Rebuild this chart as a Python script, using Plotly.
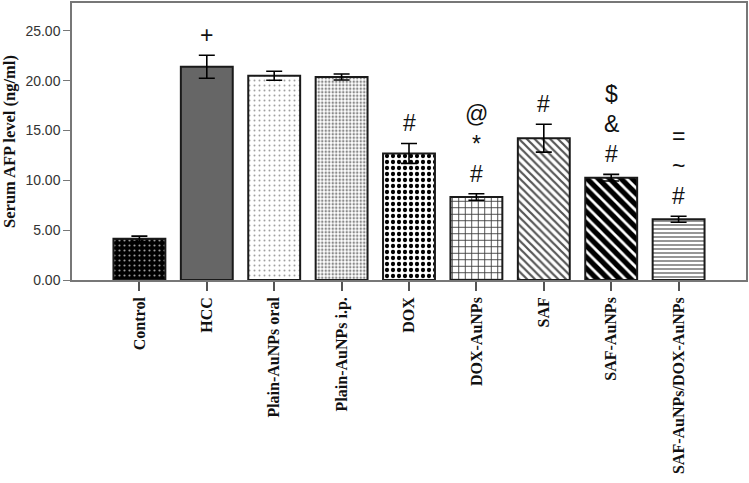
import plotly.graph_objects as go

categories = ["Control", "HCC", "Plain-AuNPs oral", "Plain-AuNPs i.p.", "DOX",
              "DOX-AuNPs", "SAF", "SAF-AuNPs", "SAF-AuNPs/DOX-AuNPs"]
afp_mean = [4.13, 21.40, 20.50, 20.37, 12.70, 8.33, 14.23, 10.27, 6.10]
afp_err = [0.27, 1.15, 0.45, 0.30, 1.00, 0.33, 1.40, 0.33, 0.30]
# significance symbols, bottom to top
sig_marks = [[], ["+"], [], [], ["#"], ["#", "*", "@"], ["#"], ["#", "&", "$"], ["#", "~", "="]]

pat_shape = [".", "", ".", ".", ".", "+", "\\", "\\", "-"]
pat_bg = ["black", "#666666", "white", "white", "white", "white", "white", "white", "white"]
pat_fg = ["#9a9a9a", "#666666", "#a0a0a0", "#8a8a8a", "black", "#3a3a3a", "#555555", "black", "#8a8a8a"]
pat_size = [5, 8, 5, 3.5, 6, 6.5, 5.5, 8, 4]
pat_solid = [0.15, 0.3, 0.12, 0.4, 0.4, 0.25, 0.4, 0.65, 0.45]

fig = go.Figure()
for i, cat in enumerate(categories):
    fig.add_trace(go.Bar(
        x=[cat], y=[afp_mean[i]], width=0.77,
        marker=dict(
            color=pat_bg[i],
            line=dict(color="#1a1a1a", width=2),
            pattern=dict(shape=pat_shape[i], bgcolor=pat_bg[i], fgcolor=pat_fg[i],
                         size=pat_size[i], solidity=pat_solid[i], fillmode="replace"),
        ),
        error_y=dict(type="data", array=[afp_err[i]], visible=True, color="black",
                     thickness=1.6, width=8),
        showlegend=False,
    ))

for cat, m, e, marks in zip(categories, afp_mean, afp_err, sig_marks):
    for i, s in enumerate(marks):
        fig.add_annotation(x=cat, y=m + e, text=s, showarrow=False,
                           yanchor="middle", yshift=20 + 30 * i,
                           font=dict(family="Liberation Sans", size=23, color="#111"))

fig.update_layout(
    width=749, height=483,
    margin=dict(l=72, r=1, t=2, b=203),
    paper_bgcolor="white", plot_bgcolor="white",
    barmode="overlay",
)
fig.update_xaxes(
    type="category", categoryorder="array", categoryarray=categories, range=[-1, 9],
    showline=True, linecolor="#777", linewidth=1.5, mirror=True,
    ticks="outside", ticklen=9, tickcolor="#555", tickwidth=1.5,
    tickangle=-90,
    tickfont=dict(family="Liberation Serif", size=16, color="#111", weight="bold"),
    showgrid=False,
)
fig.update_yaxes(
    range=[0, 27.8], dtick=5, tickformat=".2f",
    showline=True, linecolor="#777", linewidth=1.5, mirror=True,
    ticks="outside", ticklen=7, tickcolor="#777",
    tickfont=dict(family="Liberation Sans", size=14, color="#333"),
    showgrid=False, zeroline=False,
    title=dict(text="Serum AFP level (ng/ml)", standoff=6,
               font=dict(family="Liberation Serif", size=16.5, color="#111", weight="bold")),
)

fig.write_html("out.html")
